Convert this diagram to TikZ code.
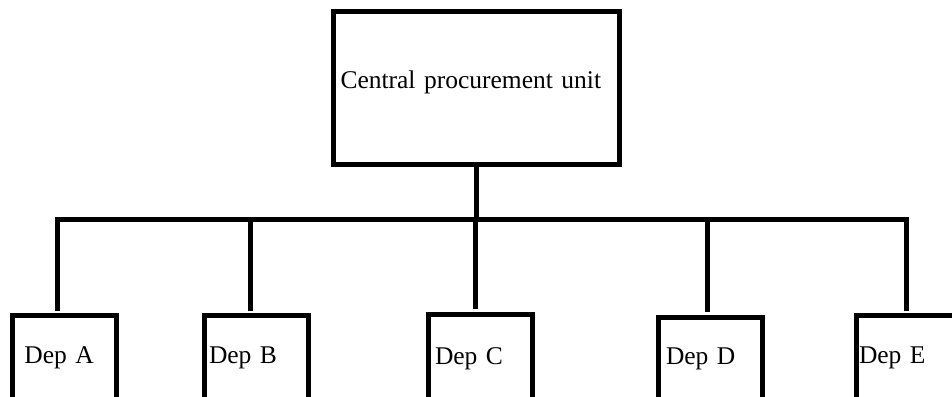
\documentclass[tikz,border=0pt]{standalone}
\usepackage{fontspec}
\setmainfont[WordSpace=0.75]{Liberation Serif}

\begin{document}
\begin{tikzpicture}[x=1pt,y=-1pt,line width=5pt,
  every node/.style={font=\fontsize{25.5}{30}\selectfont},
  box/.style={draw,anchor=north west,inner sep=0pt,outer sep=0pt,align=left},
  cbox/.style={box,text width=285.5pt,text height=76.5pt,text depth=76pt},
  dbox/.style={box,text width=104pt,text height=47.5pt,text depth=70pt}]
\path[use as bounding box,clip] (0,0) rectangle (952,396);

\node[cbox] (cpu) at (333.5,11.5) {\hspace*{7pt}Central procurement unit};

\node[dbox] (depA) at (12,315.5) {\hspace*{12.5pt}Dep A};
\node[dbox] (depB) at (204.5,315.5) {\hspace*{4.5pt}Dep B};
\node[dbox,text height=50pt] (depC) at (428,314) {\hspace*{7pt}Dep C};
\node[dbox] (depD) at (658.5,317) {\hspace*{7.5pt}Dep D};
\node[dbox] (depE) at (856.7,315.5) {\hspace*{2.3pt}Dep E};

\coordinate (bus) at (476,219.5);
\draw (cpu.south) -- (cpu.south |- bus);

\draw[shorten >=5pt] (bus) -| ([xshift=-7pt]depA.north);
\draw[shorten >=5pt] (bus) -| ([xshift=-6pt]depB.north);
\draw[shorten >=5pt] (bus) -| ([xshift=-4.5pt]depC.north);
\draw[shorten >=5pt] (bus) -| ([xshift=-3pt]depD.north);
\draw[shorten >=5pt] (bus) -| ([xshift=-2.7pt]depE.north);

\end{tikzpicture}
\end{document}
